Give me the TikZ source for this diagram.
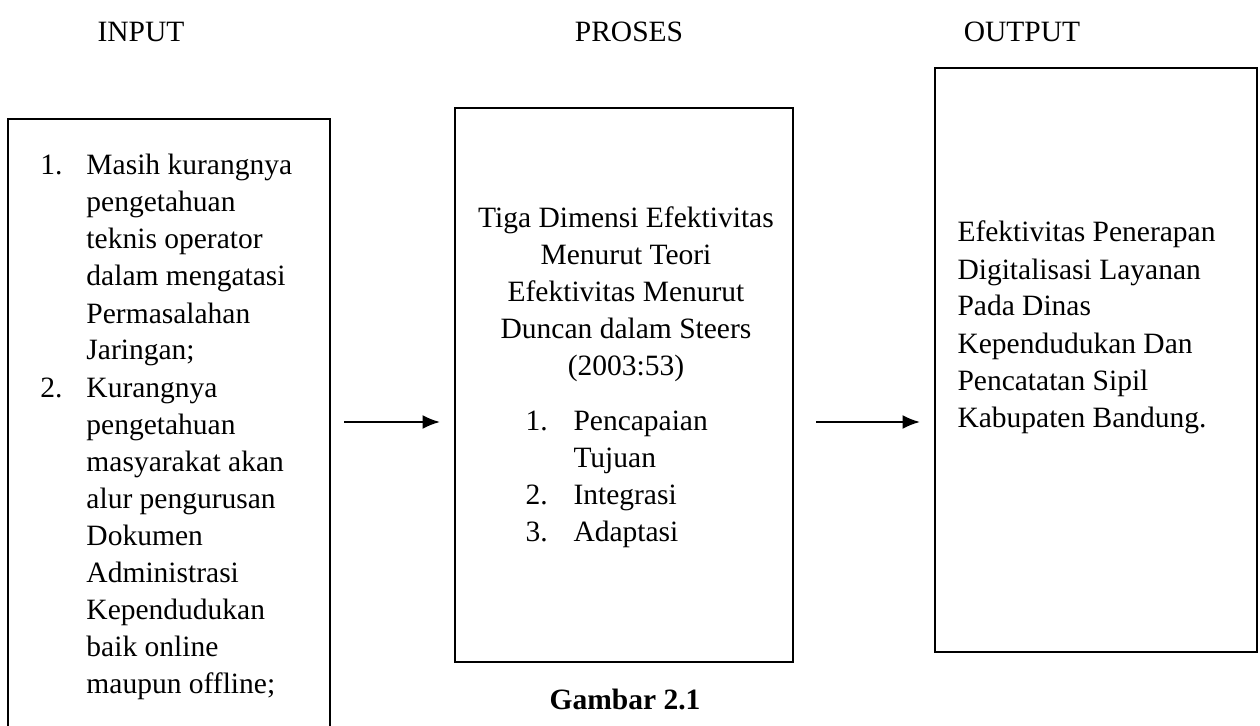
\documentclass[tikz,border=0pt]{standalone}
\usepackage{fontspec}
\setmainfont{Liberation Serif}
\usetikzlibrary{arrows.meta}

\begin{document}
\begin{tikzpicture}[x=0.4pt,y=-0.4pt]

\tikzset{box/.style={draw, line width=0.9pt, inner sep=0pt},
         txt/.style={inner sep=0pt, font=\fontsize{11.8pt}{14.8pt}\selectfont},
         flow/.style={-{Latex[length=7pt,width=5.6pt]}, line width=0.8pt}}

\useasboundingbox (0,0) rectangle (1260,726);

% headings
\node[txt, anchor=base] (hinput)  at (141,42)  {INPUT};
\node[txt, anchor=base] (hproses) at (629,42)  {PROSES};
\node[txt, anchor=base] (houtput) at (1022,42) {OUTPUT};

% boxes
\node[box, minimum width=128.8pt, minimum height=248.4pt] (inbox)   at (169,429.5) {};
\node[box, minimum width=135.2pt, minimum height=221.6pt] (procbox) at (624,385)   {};
\node[box, minimum width=128.8pt, minimum height=233.6pt] (outbox)  at (1096,360)  {};

\node[txt, anchor=base west] (intext) at (40,175) {\begin{tabular}[t]{@{}l@{}l@{}}
\makebox[18.4pt][l]{1.} & Masih kurangnya\\
 & pengetahuan\\
 & teknis operator\\
 & dalam mengatasi\\
 & Permasalahan\\
 & Jaringan;\\
2. & Kurangnya\\
 & pengetahuan\\
 & masyarakat akan\\
 & alur pengurusan\\
 & Dokumen\\
 & Administrasi\\
 & Kependudukan\\
 & baik online\\
 & maupun offline;
\end{tabular}};

\node[txt, anchor=base] (proctitle) at (626,227) {\begin{tabular}[t]{@{}c@{}}
Tiga Dimensi Efektivitas\\
Menurut Teori\\
Efektivitas Menurut\\
Duncan dalam Steers\\
(2003:53)
\end{tabular}};

\node[txt, anchor=base west] (proclist) at (525,430) {\begin{tabular}[t]{@{}l@{}l@{}}
\makebox[19.2pt][l]{1.} & Pencapaian\\
 & Tujuan\\
2. & Integrasi\\
3. & Adaptasi
\end{tabular}};

\node[txt, anchor=base west] (outtext) at (957,242) {\begin{tabular}[t]{@{}l@{}}
Efektivitas Penerapan\\
Digitalisasi Layanan\\
Pada Dinas\\
Kependudukan Dan\\
Pencatatan Sipil\\
Kabupaten Bandung.
\end{tabular}};

% arrows
\coordinate (in-out)    at (344,422);
\coordinate (proc-in)   at (440,422);
\coordinate (proc-out)  at (816,422);
\coordinate (out-in)    at (920,422);
\draw[flow] (in-out) -- (proc-in);
\draw[flow] (proc-out) -- (out-in);

\node[txt, anchor=base, font=\fontsize{11.8pt}{14.8pt}\selectfont\bfseries] (caption) at (625,709) {Gambar 2.1};

\end{tikzpicture}
\end{document}
